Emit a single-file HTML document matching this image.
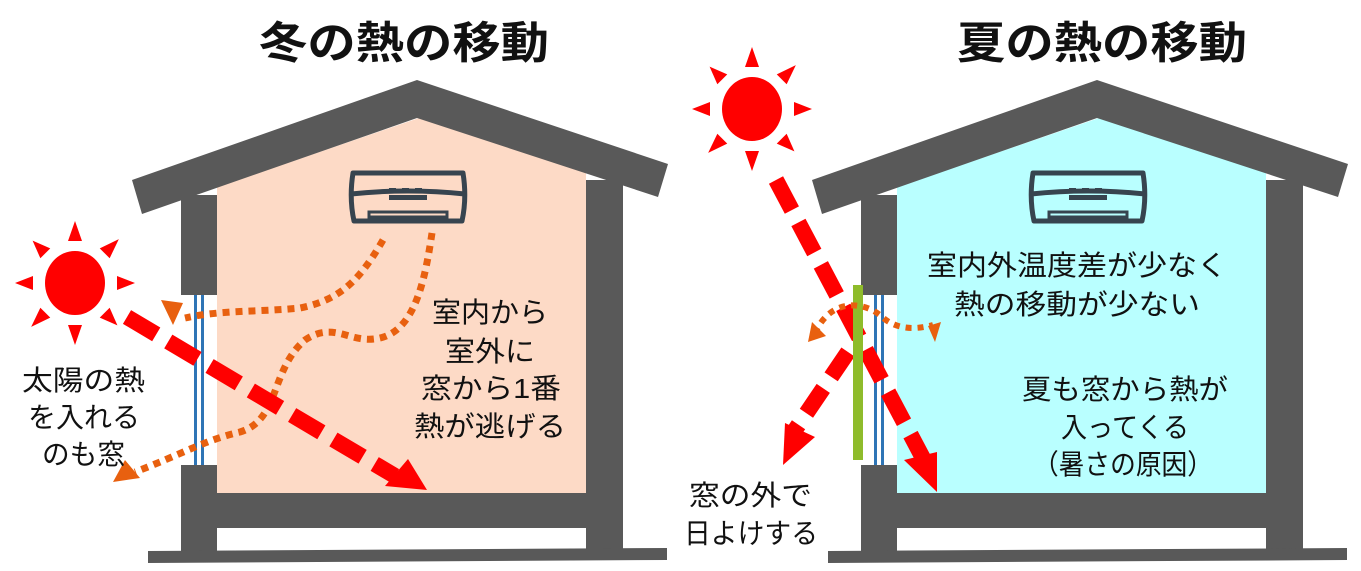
<!DOCTYPE html>
<html><head><meta charset="utf-8"><style>
html,body{margin:0;padding:0;background:#fff;}
svg{display:block;}
text{font-family:"Liberation Sans","Noto Sans CJK JP",sans-serif;fill:#111;}
</style></head><body>
<svg width="1361" height="571" viewBox="0 0 1361 571" xmlns="http://www.w3.org/2000/svg">
<defs>
<g id="house">
  <polygon points="132,180 417,80 668,164 658,197 417,118 142,214" fill="#595959"/>
  <rect x="181" y="195" width="36" height="100" fill="#595959"/>
  <rect x="181" y="465" width="36" height="88" fill="#595959"/>
  <rect x="586" y="180" width="37" height="373" fill="#595959"/>
  <rect x="181" y="493" width="442" height="35" fill="#595959"/>
  <polygon points="148,551 667,548 667,560 148,563" fill="#595959"/>
  <rect x="194" y="295" width="3" height="170" fill="#2e75b6"/>
  <rect x="201" y="295" width="3" height="170" fill="#2e75b6"/>
</g>
<g id="ac">
  <path d="M353,173 Q349,198 354,221 L462,221 Q467,198 463,173 Z" fill="none" stroke="#37444f" stroke-width="5" stroke-linejoin="round"/>
  <path d="M351,194 Q408,188 465,194" fill="none" stroke="#37444f" stroke-width="5"/>
  <rect x="389" y="195" width="38" height="5" fill="#37444f"/>
  <rect x="369" y="212" width="78" height="5" fill="none" stroke="#37444f" stroke-width="3"/>
  <rect x="389" y="188" width="7" height="2.5" fill="#37444f"/>
  <rect x="402" y="188" width="7" height="2.5" fill="#37444f"/>
  <rect x="415" y="188" width="7" height="2.5" fill="#37444f"/>
</g>
<g id="sun">
  <ellipse cx="0" cy="0" rx="30" ry="32" fill="#ff0000"/>
  <g fill="#ff0000">
    <polygon points="-7,-42 7,-42 0,-62"/>
    <polygon points="-7,42 7,42 0,62"/>
    <polygon points="-42,-7 -42,7 -60,0"/>
    <polygon points="42,-7 42,7 60,0"/>
    <g transform="rotate(45)">
      <polygon points="-7,-42 7,-42 0,-62"/><polygon points="-7,42 7,42 0,62"/>
      <polygon points="-42,-7 -42,7 -60,0"/><polygon points="42,-7 42,7 60,0"/>
    </g>
  </g>
</g>
</defs>

<text x="259" y="58" font-size="44" font-weight="bold" textLength="290" lengthAdjust="spacingAndGlyphs">冬の熱の移動</text>
<text x="957" y="58" font-size="44" font-weight="bold" textLength="290" lengthAdjust="spacingAndGlyphs">夏の熱の移動</text>

<polygon points="217,187 419,118 586,173 586,493 217,493" fill="#fddac6"/>
<use href="#house"/>
<use href="#ac"/>
<use href="#sun" transform="translate(75,283)"/>

<g fill="none" stroke="#e8600f" stroke-width="7" stroke-dasharray="7,6">
  <path d="M383,240 C360,280 340,300 300,308 C260,312 220,310 185,318"/>
  <path d="M432,233 C425,280 415,330 380,338 C350,345 335,320 305,340 C270,370 280,420 240,432 C205,440 180,455 135,472"/>
</g>
<polygon points="161,300 183,303 173,325" fill="#e8600f"/>
<polygon points="113,482 125,460 140,478" fill="#e8600f"/>

<line x1="127" y1="317" x2="395" y2="476" stroke="#ff0000" stroke-width="16" stroke-dasharray="34,14"/>
<polygon points="427,490 385,486 408,459" fill="#ff0000"/>

<g font-size="28">
<text x="22" y="390" textLength="123" lengthAdjust="spacingAndGlyphs">太陽の熱</text>
<text x="28" y="427" textLength="112" lengthAdjust="spacingAndGlyphs">を入れる</text>
<text x="42" y="464" textLength="83" lengthAdjust="spacingAndGlyphs">のも窓</text>
<text x="432" y="322" textLength="116" lengthAdjust="spacingAndGlyphs">室内から</text>
<text x="445" y="361" textLength="90" lengthAdjust="spacingAndGlyphs">室外に</text>
<text x="421" y="398" textLength="140" lengthAdjust="spacingAndGlyphs">窓から1番</text>
<text x="414" y="436" textLength="152" lengthAdjust="spacingAndGlyphs">熱が逃げる</text>
</g>

<g transform="translate(680,0)">
<polygon points="217,187 419,118 586,173 586,493 217,493" fill="#b9ffff"/>
<use href="#house"/>
<use href="#ac"/>
</g>
<use href="#sun" transform="translate(752,109)"/>

<line x1="776" y1="180" x2="925" y2="462" stroke="#ff0000" stroke-width="16" stroke-dasharray="34,14"/>
<polygon points="937,492 904,460 937,452" fill="#ff0000"/>
<line x1="848" y1="352" x2="795" y2="430" stroke="#ff0000" stroke-width="16" stroke-dasharray="30,14"/>
<polygon points="783,465 785,423 815,437" fill="#ff0000"/>

<rect x="853" y="285" width="10" height="175" fill="#8fbc2b"/>

<path d="M815,333 C830,300 860,300 880,315 C895,330 915,330 933,325" fill="none" stroke="#e8600f" stroke-width="6" stroke-dasharray="6,6"/>
<polygon points="808,342 812,322 826,336" fill="#e8600f"/>
<polygon points="941,322 935,342 928,326" fill="#e8600f"/>

<g font-size="28">
<text x="927" y="275" textLength="300" lengthAdjust="spacingAndGlyphs">室内外温度差が少なく</text>
<text x="954" y="314" textLength="246" lengthAdjust="spacingAndGlyphs">熱の移動が少ない</text>
<text x="1022" y="399" textLength="206" lengthAdjust="spacingAndGlyphs">夏も窓から熱が</text>
<text x="1061" y="437" textLength="128" lengthAdjust="spacingAndGlyphs">入ってくる</text>
<text x="1033" y="474" textLength="180" lengthAdjust="spacingAndGlyphs">（暑さの原因）</text>
<text x="689" y="505" textLength="123" lengthAdjust="spacingAndGlyphs">窓の外で</text>
<text x="684" y="543" textLength="134" lengthAdjust="spacingAndGlyphs">日よけする</text>
</g>
</svg>
</body></html>
